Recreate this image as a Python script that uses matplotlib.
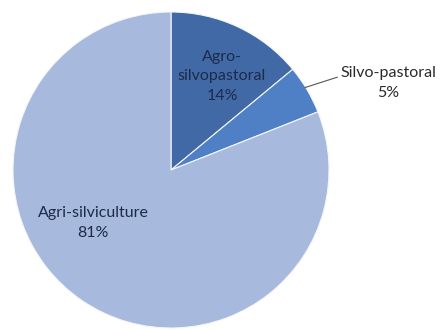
import numpy as np
import matplotlib
matplotlib.use("Agg")
import matplotlib.pyplot as plt

categories = ["Agro-\nsilvopastoral", "Silvo-pastoral", "Agri-silviculture"]
values = [14, 5, 81]
colors = ["#4169a6", "#4f80c6", "#a7b9dc"]

plt.rcParams['font.family'] = ['Lato', 'DejaVu Sans']

W, H = 441, 330
fig = plt.figure(figsize=(W / 100, H / 100), dpi=100)
ax = fig.add_axes([0, 0, 1, 1])

cx, cy, r = 171, H - 170, 158
wedges, _ = ax.pie(values, colors=colors, startangle=90, counterclock=False,
                   center=(cx, cy), radius=r, frame=True,
                   wedgeprops=dict(linewidth=0.8, edgecolor='#f4f6fa'))
ax.set_xlim(0, W)
ax.set_ylim(0, H)
ax.set_aspect('equal')
ax.axis('off')

txt = dict(color="#1c2b4a", fontsize=11.5, ha='center', va='center', linespacing=1.5)
ax.text(222, H - 76, f"{categories[0]}\n{values[0]}%", **txt)
ax.text(93, H - 223, f"{categories[2]}\n{values[2]}%", **txt)

# leader line for small slice
w = wedges[1]
mid = np.deg2rad((w.theta1 + w.theta2) / 2)
ex, ey = cx + r * np.cos(mid), cy + r * np.sin(mid)
ax.annotate(f"{categories[1]}\n{values[1]}%", xy=(ex - 2, ey + 2), xytext=(388, H - 83),
            ha='center', va='center', color="#2a2a2a", fontsize=11.5, linespacing=1.5,
            arrowprops=dict(arrowstyle='-', color='#555555', lw=0.8,
                            shrinkA=0, shrinkB=0, relpos=(0.0, 0.7)))

fig.savefig("out.png", dpi=100)
